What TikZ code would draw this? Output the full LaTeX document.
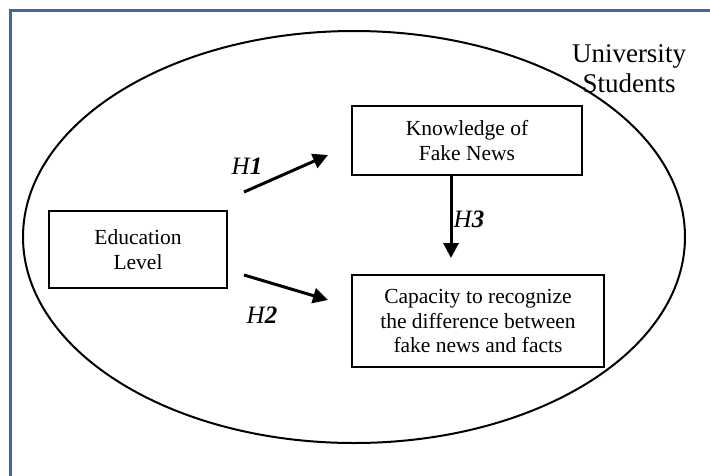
\documentclass[tikz,border=0pt]{standalone}
\usepackage{fontspec}
\setmainfont{Liberation Serif}
\usetikzlibrary{arrows.meta,shapes.geometric}
\definecolor{frameblue}{HTML}{4465A5}
\begin{document}
\begin{tikzpicture}[x=1pt,y=-1pt,
  box/.style={draw,line width=2pt,align=center,inner sep=0pt,
    font=\fontsize{21.5}{24.5}\selectfont},
  arr/.style={line width=3pt,-{Triangle[length=15pt,width=15pt]}},
  hlab/.style={font=\fontsize{25}{25}\selectfont\itshape,inner sep=0pt}]
\useasboundingbox (0,0) rectangle (710,475);
\draw[frameblue,line width=3pt] (10,10) rectangle (740,505);
\node[draw,ellipse,line width=2pt,minimum width=662pt,minimum height=412pt,inner sep=0pt] (pop) at (354,237) {};
\node[align=center,inner sep=0pt,font=\fontsize{27}{30}\selectfont] (uni) at (629,69) {University\\Students};
\node[box,minimum width=178pt,minimum height=77pt] (edu) at (138,249.5) {Education\\Level};
\node[box,minimum width=230pt,minimum height=69pt] (know) at (467,140.5) {Knowledge of\\Fake News};
\node[box,minimum width=252pt,minimum height=92pt] (cap) at (478,321) {Capacity to recognize\\the difference between\\fake news and facts};
\coordinate (h1s) at (244,192);
\coordinate (h1e) at (328,155);
\coordinate (h2s) at (244,275);
\coordinate (h2e) at (328,300);
\coordinate (h3s) at (451,175);
\coordinate (h3e) at (451,258);
\draw[arr] (h1s) -- (h1e);
\draw[arr] (h2s) -- (h2e);
\draw[arr] (h3s) -- (h3e);
\node[hlab] (l1) at (247,166) {H\textbf{1}};
\node[hlab] (l2) at (262,315) {H\textbf{2}};
\node[hlab] (l3) at (469,219) {H\textbf{3}};
\end{tikzpicture}
\end{document}
